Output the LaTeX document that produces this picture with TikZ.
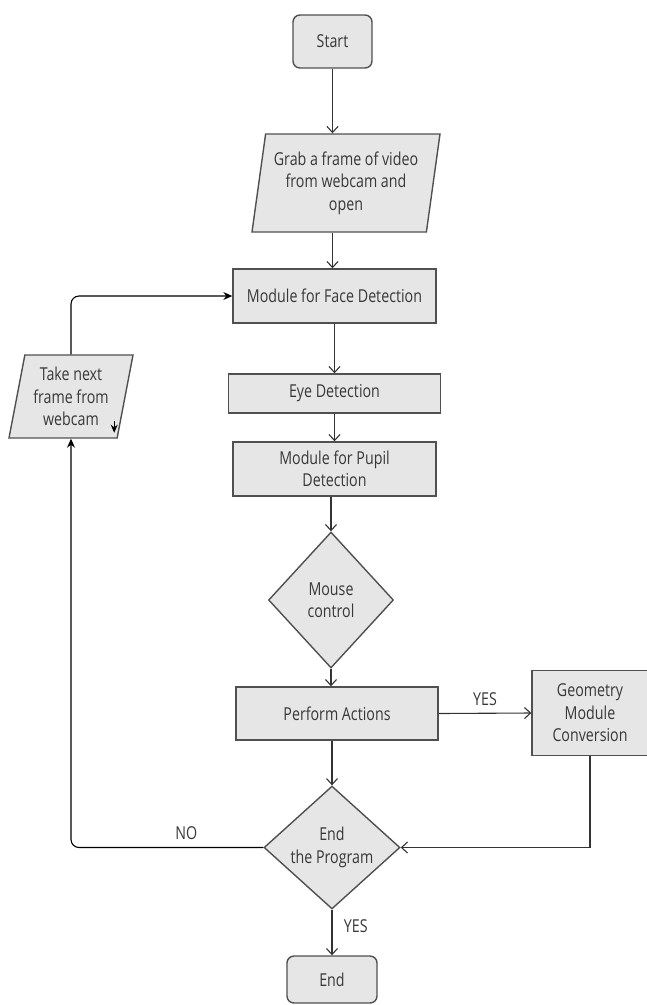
\documentclass[tikz,border=0pt]{standalone}
\usepackage{fontspec}
\setmainfont{Open Sans}[FakeStretch=0.8]
\usepackage{xcolor,tikz}
\usetikzlibrary{arrows.meta,shapes.geometric,positioning}
\definecolor{boxfill}{HTML}{E6E6E6}
\definecolor{boxline}{HTML}{505050}
\definecolor{txt}{HTML}{383838}
\tikzset{>={Straight Barb[length=6pt,width=11pt]}}
\tikzset{
  base/.style={draw=boxline, line width=1.4pt, fill=boxfill, text=txt, align=center,
    inner sep=2pt, font={\fontsize{17.8}{22.5}\selectfont}},
  procbox/.style={base, rectangle},
  termbox/.style={base, rectangle, rounded corners=7pt},
  iobox/.style={base, trapezium, trapezium stretches body},
  decbox/.style={base, diamond, inner sep=0pt},
  flow/.style={draw=black!80, line width=1.1pt, ->},
  back/.style={draw=black, line width=1.1pt, -{Stealth[length=9pt,width=8pt]}, rounded corners=8pt},
  lbl/.style={text=txt, font={\fontsize{17.8}{22.5}\selectfont}}
}

\begin{document}
\begin{tikzpicture}[x=1pt,y=-1pt]
\useasboundingbox (0,0) rectangle (647,1005);
%%%% main column
\node[termbox, minimum width=79pt, minimum height=53pt] (start) at (332.5,41.5) {Start};
\node[iobox, trapezium left angle=78.5, trapezium right angle=101.5,
  minimum width=188pt, minimum height=98pt] (grab) at (346,183)
  {Grab a frame of video\\from webcam and\\open};
\node[procbox, minimum width=203pt, minimum height=54pt] (face) at (334.5,296) {Module for Face Detection};
\node[procbox, minimum width=212pt, minimum height=39pt] (eye) at (334.5,393.5) {Eye Detection};
\node[procbox, minimum width=203pt, minimum height=54pt] (pupil) at (334.5,469) {Module for Pupil\\Detection};
\node[decbox, minimum width=125pt, minimum height=136pt] (mouse) at (331,600) {Mouse\\control};
\node[procbox, minimum width=202pt, minimum height=53pt] (perform) at (337,713.5) {Perform Actions};
\node[procbox, minimum width=116pt, minimum height=85pt] (geo) at (590,713) {Geometry\\Module\\Conversion};
\node[decbox, minimum width=136pt, minimum height=105pt] (endprog) at (332,847.5) {End\\the Program};
\node[termbox, minimum width=90pt, minimum height=47pt] (stop) at (332,979.5) {End};
%%%% left branch
\node[iobox, trapezium left angle=75.8, trapezium right angle=104.2,
  minimum width=124pt, minimum height=83pt] (next) at (71,396.5)
  {Take next\\frame from\\webcam};
%%%% connectors
\draw[flow] (start.south) -- (start.south |- grab.north);
\draw[flow] (start.south |- grab.south) -- (start.south |- face.north);
\draw[flow] (face) -- (eye);
\draw[flow] (eye) -- (pupil);
\draw[flow] (pupil.south -| mouse.north) -- (mouse.north);
\draw[flow] (mouse.south) -- (mouse.south |- perform.north);
\draw[flow] (perform.south -| endprog.north) -- (endprog.north);
\draw[flow] (endprog) -- node[lbl, right=8pt, pos=0.35] {YES} (stop);
\draw[flow] (perform.east) -- node[lbl, above=4pt] {YES} (geo.west);
\draw[flow] (geo.south) |- (endprog.east);
\draw[back] (endprog.west) -| node[lbl, pos=0.2, above=4pt] {NO} (next.south);
\draw[back] (next.north) |- (face.west);
\draw[-{Stealth[length=8pt,width=7pt]}, line width=1pt] ([xshift=1pt,yshift=18pt]next.south east) -- ++(0,12);
\end{tikzpicture}
\end{document}
